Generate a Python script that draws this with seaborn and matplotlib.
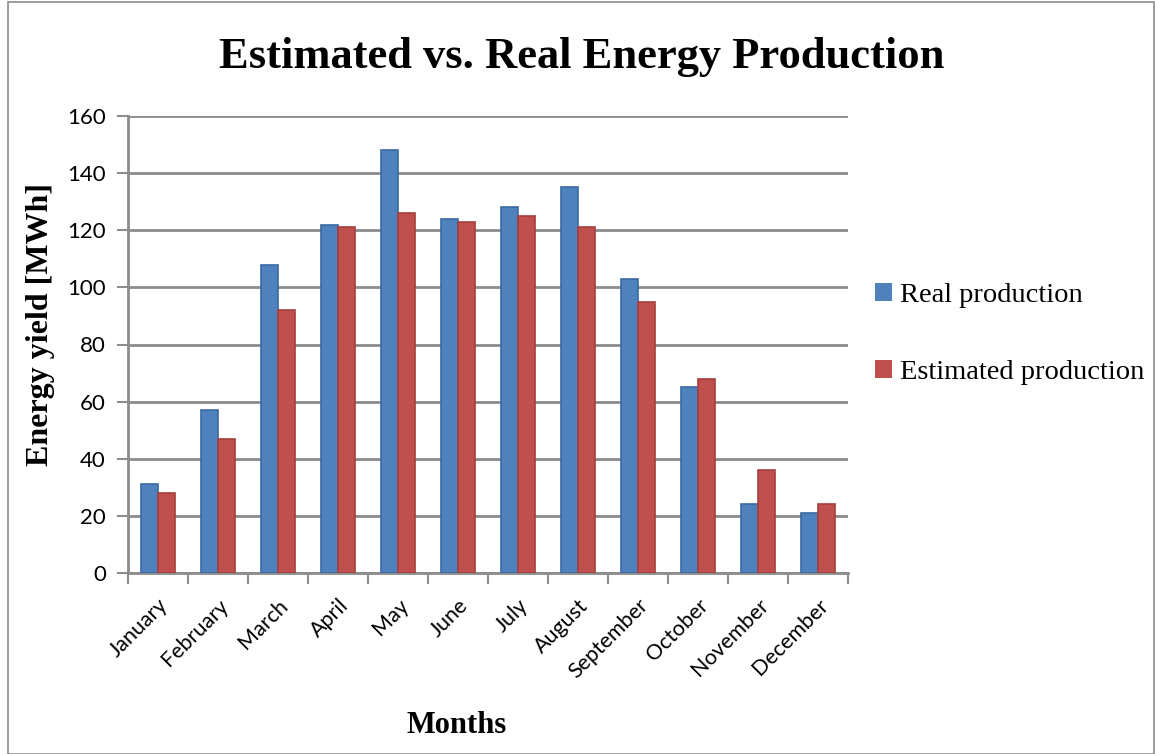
import numpy as np
import pandas as pd
import seaborn as sns
import matplotlib.pyplot as plt
from matplotlib.patches import Rectangle

months = ['January', 'February', 'March', 'April', 'May', 'June', 'July',
          'August', 'September', 'October', 'November', 'December']
real_production = [31, 57, 108, 122, 148, 124, 128, 135, 103, 65, 24, 21]
estimated_production = [28, 47, 92, 121, 126, 123, 125, 121, 95, 68, 36, 24]
series_names = ['Real production', 'Estimated production']
y_ticks = [0, 20, 40, 60, 80, 100, 120, 140, 160]

# long format for seaborn
df = pd.DataFrame({
    'month': months * 2,
    'value': real_production + estimated_production,
    'series': [series_names[0]] * 12 + [series_names[1]] * 12,
})

sns.set_style('white')
plt.rcParams['font.family'] = ['Lato', 'DejaVu Sans']
plt.rcParams['text.color'] = 'black'
plt.rcParams['xtick.color'] = 'black'
plt.rcParams['ytick.color'] = 'black'
plt.rcParams['axes.labelcolor'] = 'black'

fig = plt.figure(figsize=(11.55, 7.54), dpi=100)
ax = fig.add_axes([128 / 1155, 1 - 573 / 754, 720 / 1155, (573 - 116) / 754])

grid_c = '#8c8c8c'
sns.barplot(data=df, x='month', y='value', hue='series', order=months,
            hue_order=series_names, palette=['#4F81BD', '#C0504D'],
            width=0.56, saturation=1, edgecolor='none', ax=ax, zorder=3)

# darker edge shading on the cylinders
for patch, col in zip(ax.patches, ['#3a6aa3'] * 12 + ['#a53f3c'] * 12):
    patch.set_edgecolor(col)
    patch.set_linewidth(1.2)

ax.set_ylim(0, 160)
ax.set_xlim(-0.5, 11.5)
ax.set_yticks(y_ticks)
ax.yaxis.grid(True, color=grid_c, linewidth=2)
ax.set_axisbelow(True)
for s in ['top', 'right']:
    ax.spines[s].set_visible(False)
for s in ['left', 'bottom']:
    ax.spines[s].set_color(grid_c)
    ax.spines[s].set_linewidth(2)

ax.tick_params(axis='y', labelsize=16, length=8, width=1.5, color=grid_c,
               left=True, pad=8, labelcolor='black')
ax.set_xticks(np.arange(12))
ax.set_xticklabels(months, rotation=45, ha='right', rotation_mode='anchor',
                   fontsize=15.5)
ax.tick_params(axis='x', length=0, pad=16, labelcolor='black')
ax.set_xticks(np.arange(-0.5, 12, 1), minor=True)
ax.tick_params(axis='x', which='minor', length=8, width=1.5, color=grid_c,
               bottom=True)

serif = ['Liberation Serif', 'DejaVu Serif']
ax.set_xlabel('Months', fontsize=22, fontweight='bold', family=serif)
ax.xaxis.set_label_coords(0.457, -0.302)
ax.set_ylabel('Energy yield [MWh]', fontsize=23, fontweight='bold',
              family=serif)
ax.yaxis.set_label_coords(-0.102, 0.543)
fig.text(0.5033, 0.925, 'Estimated vs. Real Energy Production', fontsize=32,
         fontweight='bold', family=serif, ha='center', va='center')

handles, labels = ax.get_legend_handles_labels()
ax.legend(handles, labels, loc='center left', bbox_to_anchor=(1.021, 0.523),
          frameon=False, prop={'family': serif, 'size': 20.5},
          handlelength=0.6, handleheight=0.6, handletextpad=0.3,
          labelspacing=1.85, borderaxespad=0)

fig.patches.append(Rectangle((0.007, 0.0), 0.992, 0.997,
                             transform=fig.transFigure, fill=False,
                             edgecolor='#8c8c8c', linewidth=1.2))

fig.savefig('out.png', dpi=100)
